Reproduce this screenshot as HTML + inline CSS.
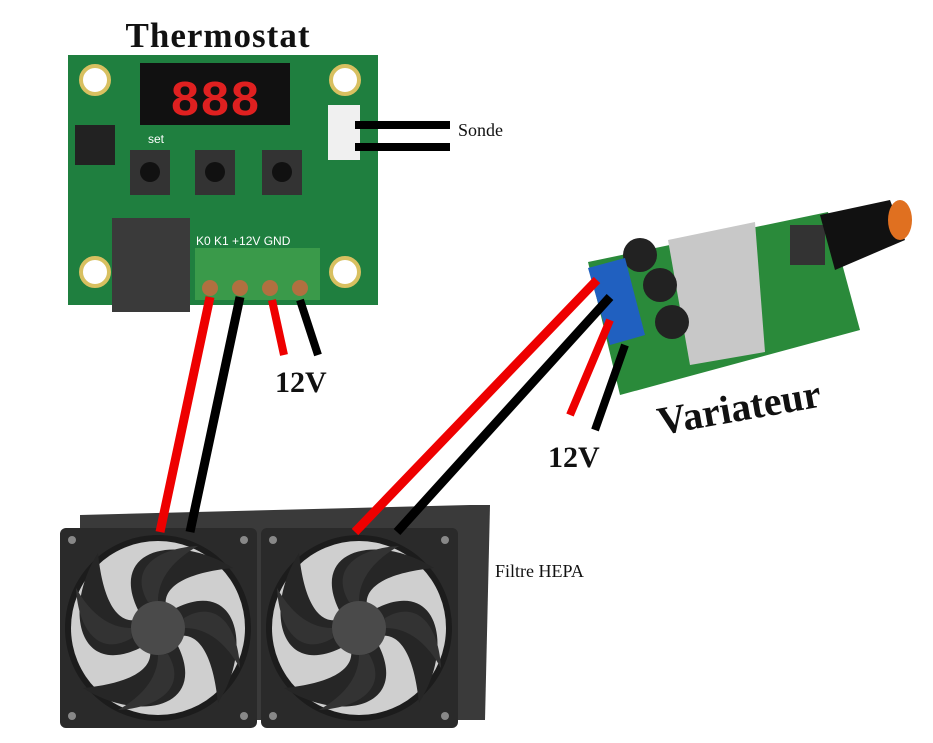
<!DOCTYPE html>
<html><head><meta charset="utf-8"><style>
html,body{margin:0;padding:0;background:#fff;width:933px;height:743px;overflow:hidden}
</style></head><body>
<svg width="933" height="743" viewBox="0 0 933 743" xmlns="http://www.w3.org/2000/svg">
<defs>
<g id="fan">
<rect x="-98" y="-100" width="197" height="200" rx="6" fill="#2a2a2a"/>
<circle r="93" fill="#1c1c1c"/>
<circle r="87" fill="#cfcfcf"/>
<path d="M-20,-18 C-50,-80 20,-95 75,-60 C25,-55 5,-40 8,-22Z" fill="#262626"/>
<path d="M18,-20 C80,-50 95,20 60,75 C55,25 40,5 22,8Z" fill="#262626"/>
<path d="M20,18 C50,80 -20,95 -75,60 C-25,55 -5,40 -8,22Z" fill="#262626"/>
<path d="M-18,20 C-80,50 -95,-20 -60,-75 C-55,-25 -40,-5 -22,-8Z" fill="#262626"/>
<path d="M-10,-26 C-30,-60 0,-80 40,-82 C10,-65 0,-45 0,-27Z" fill="#333"/>
<path d="M26,-10 C60,-30 80,0 82,40 C65,10 45,0 27,0Z" fill="#333"/>
<path d="M10,26 C30,60 0,80 -40,82 C-10,65 0,45 0,27Z" fill="#333"/>
<path d="M-26,10 C-60,30 -80,0 -82,-40 C-65,-10 -45,0 -27,0Z" fill="#333"/>
<circle r="27" fill="#4a4a4a"/>
<circle cx="-86" cy="-88" r="4" fill="#888"/><circle cx="86" cy="-88" r="4" fill="#888"/>
<circle cx="-86" cy="88" r="4" fill="#888"/><circle cx="86" cy="88" r="4" fill="#888"/>
</g>
</defs>

<text x="218" y="47" font-family="Liberation Serif,serif" font-weight="bold" font-size="35" text-anchor="middle" fill="#111" letter-spacing="1">Thermostat</text>
<rect x="68" y="55" width="310" height="250" fill="#1f7f3f"/>
<circle cx="95" cy="80" r="14" fill="#fff" stroke="#d8c060" stroke-width="4"/>
<circle cx="345" cy="80" r="14" fill="#fff" stroke="#d8c060" stroke-width="4"/>
<circle cx="95" cy="272" r="14" fill="#fff" stroke="#d8c060" stroke-width="4"/>
<circle cx="345" cy="272" r="14" fill="#fff" stroke="#d8c060" stroke-width="4"/>
<rect x="140" y="63" width="150" height="62" fill="#111"/>
<text x="215" y="115" font-family="Liberation Mono,monospace" font-weight="bold" font-size="50" text-anchor="middle" fill="#e02020">888</text>
<rect x="75" y="125" width="40" height="40" fill="#222"/>
<rect x="130" y="150" width="40" height="45" fill="#333"/><circle cx="150" cy="172" r="10" fill="#111"/>
<rect x="195" y="150" width="40" height="45" fill="#333"/><circle cx="215" cy="172" r="10" fill="#111"/>
<rect x="262" y="150" width="40" height="45" fill="#333"/><circle cx="282" cy="172" r="10" fill="#111"/>
<text x="148" y="143" font-family="Liberation Sans,sans-serif" font-size="12" fill="#fff">set</text>
<text x="196" y="245" font-family="Liberation Sans,sans-serif" font-size="12" fill="#fff">K0  K1 +12V GND</text>
<rect x="112" y="218" width="78" height="94" fill="#3a3a3a"/>
<rect x="195" y="248" width="125" height="52" fill="#3a9a4a"/>
<circle cx="210" cy="288" r="8" fill="#b07040"/><circle cx="240" cy="288" r="8" fill="#b07040"/>
<circle cx="270" cy="288" r="8" fill="#b07040"/><circle cx="300" cy="288" r="8" fill="#b07040"/>
<rect x="328" y="105" width="32" height="55" fill="#f0f0f0"/>
<line x1="355" y1="125" x2="450" y2="125" stroke="#000" stroke-width="8"/>
<line x1="355" y1="147" x2="450" y2="147" stroke="#000" stroke-width="8"/>
<text x="458" y="136" font-family="Liberation Serif,serif" font-size="18" fill="#111">Sonde</text>

<line x1="272" y1="300" x2="284" y2="355" stroke="#e00" stroke-width="8"/>
<line x1="300" y1="300" x2="318" y2="355" stroke="#000" stroke-width="8"/>
<text x="275" y="392" font-family="Liberation Serif,serif" font-weight="bold" font-size="30" fill="#111">12V</text>

<polygon points="80,515 470,505 490,505 485,720 80,720" fill="#3a3a3a"/>
<use href="#fan" x="158" y="628"/>
<use href="#fan" x="359" y="628"/>
<text x="495" y="577" font-family="Liberation Serif,serif" font-size="18" fill="#111">Filtre HEPA</text>

<line x1="210" y1="297" x2="160" y2="532" stroke="#e00" stroke-width="9"/>
<line x1="240" y1="297" x2="190" y2="532" stroke="#000" stroke-width="9"/>

<polygon points="588,262 828,212 860,330 620,395" fill="#2a8a3a"/>
<polygon points="668,240 755,222 765,352 690,365" fill="#c8c8c8"/>
<circle cx="640" cy="255" r="17" fill="#222"/><circle cx="660" cy="285" r="17" fill="#222"/><circle cx="672" cy="322" r="17" fill="#222"/>
<rect x="790" y="225" width="35" height="40" fill="#333"/>
<polygon points="820,215 890,200 905,240 835,270" fill="#111"/>
<ellipse cx="900" cy="220" rx="12" ry="20" fill="#e07020"/>
<polygon points="588,268 625,258 645,335 610,345" fill="#2060c0"/>
<line x1="597" y1="280" x2="355" y2="532" stroke="#e00" stroke-width="9"/>
<line x1="610" y1="297" x2="397" y2="532" stroke="#000" stroke-width="9"/>
<line x1="610" y1="320" x2="570" y2="415" stroke="#e00" stroke-width="8"/>
<line x1="625" y1="345" x2="595" y2="430" stroke="#000" stroke-width="8"/>
<text x="660" y="435" transform="rotate(-10 660 435)" font-family="Liberation Serif,serif" font-weight="bold" font-size="40" fill="#111">Variateur</text>
<text x="548" y="467" font-family="Liberation Serif,serif" font-weight="bold" font-size="30" fill="#111">12V</text>
</svg>
</body></html>
